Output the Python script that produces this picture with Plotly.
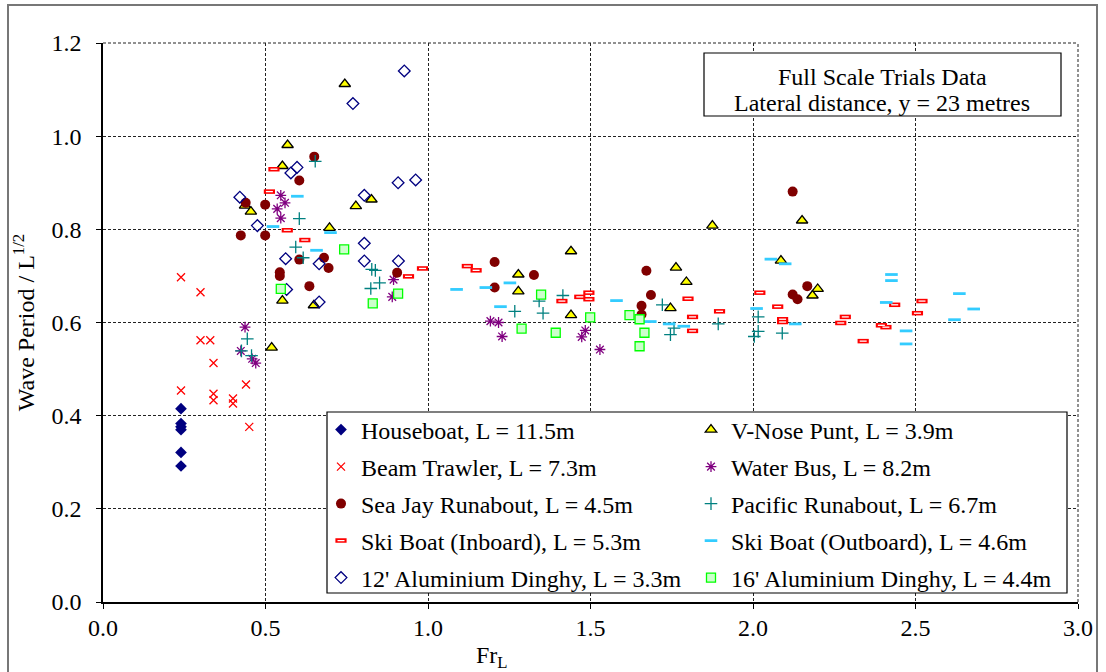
import plotly.graph_objects as go

# ---- Full scale trials: wave period vs length Froude number (y = 23 m) ----

houseboat_x = [0.24, 0.24, 0.24, 0.24, 0.24, 0.24]
houseboat_y = [0.415, 0.383, 0.376, 0.370, 0.321, 0.292]

trawler_x = [0.24, 0.30, 0.30, 0.33, 0.34, 0.24, 0.34, 0.34, 0.40, 0.40, 0.44, 0.45]
trawler_y = [0.697, 0.665, 0.562, 0.562, 0.513, 0.454, 0.447, 0.433, 0.437, 0.426, 0.467, 0.376]

seajay_x = [0.439, 0.499, 0.424, 0.499, 0.604, 0.650, 0.604, 0.680, 0.694, 0.544, 0.544, 0.635,
            0.905, 1.205, 1.326, 1.205, 1.672, 1.686, 1.657, 1.657, 2.122, 2.167, 2.122, 2.137]
seajay_y = [0.857, 0.853, 0.787, 0.787, 0.905, 0.956, 0.735, 0.739, 0.717, 0.708, 0.700, 0.678,
            0.707, 0.730, 0.702, 0.675, 0.711, 0.659, 0.636, 0.617, 0.881, 0.678, 0.660, 0.650]

inboard_x = [0.526, 0.512, 0.567, 0.621, 0.940, 0.983, 1.121, 1.148, 1.412, 1.467, 1.495, 1.495,
             1.800, 1.814, 1.814, 1.897, 2.021, 2.076, 2.091, 2.091, 2.270, 2.284, 2.339, 2.395,
             2.409, 2.436, 2.506, 2.520]
inboard_y = [0.929, 0.881, 0.798, 0.777, 0.699, 0.716, 0.721, 0.712, 0.646, 0.655, 0.664, 0.650,
             0.651, 0.612, 0.582, 0.624, 0.664, 0.634, 0.607, 0.601, 0.599, 0.612, 0.560, 0.594,
             0.590, 0.638, 0.620, 0.646]

outboard_x = [0.598, 0.523, 0.700, 0.657, 1.088, 1.178, 1.252, 1.223, 1.580, 1.684, 1.742, 1.787,
              2.011, 2.055, 2.099, 2.130, 2.426, 2.426, 2.410, 2.471, 2.471, 2.620, 2.635, 2.679]
outboard_y = [0.871, 0.806, 0.793, 0.755, 0.671, 0.675, 0.685, 0.634, 0.647, 0.602, 0.597, 0.592,
              0.630, 0.736, 0.726, 0.597, 0.703, 0.690, 0.643, 0.582, 0.554, 0.606, 0.662, 0.629]

dinghy12_x = [0.421, 0.597, 0.578, 0.475, 0.562, 0.665, 0.565, 0.665, 0.927, 0.769, 0.908, 0.962,
              0.804, 0.804, 0.804, 0.909]
dinghy12_y = [0.869, 0.933, 0.921, 0.808, 0.737, 0.726, 0.671, 0.644, 1.140, 1.070, 0.900, 0.906,
              0.873, 0.770, 0.732, 0.732]

punt_x = [0.744, 0.568, 0.552, 0.437, 0.455, 0.697, 0.552, 0.649, 0.519, 0.778, 0.826, 1.440,
          1.278, 1.278, 1.440, 1.746, 1.763, 1.795, 1.875, 2.151, 2.086, 2.199, 2.183]
punt_y = [1.112, 0.981, 0.936, 0.851, 0.838, 0.803, 0.647, 0.637, 0.546, 0.850, 0.864, 0.753,
          0.703, 0.667, 0.616, 0.631, 0.718, 0.687, 0.808, 0.819, 0.733, 0.672, 0.658]

waterbus_x = [0.547, 0.560, 0.536, 0.547, 0.437, 0.424, 0.459, 0.470, 0.894, 0.890, 1.192, 1.217,
              1.228, 1.484, 1.473, 1.529]
waterbus_y = [0.873, 0.857, 0.844, 0.824, 0.590, 0.539, 0.522, 0.513, 0.692, 0.655, 0.603, 0.600,
              0.570, 0.583, 0.569, 0.542]

pacific_x = [0.653, 0.604, 0.593, 0.616, 0.444, 0.426, 0.457, 0.827, 0.838, 0.851, 0.824, 1.267,
             1.342, 1.354, 1.415, 1.721, 1.757, 1.746, 1.893, 2.016, 2.016, 2.004, 2.090]
pacific_y = [0.946, 0.823, 0.762, 0.739, 0.565, 0.539, 0.529, 0.714, 0.712, 0.685, 0.673, 0.624,
             0.646, 0.620, 0.658, 0.638, 0.588, 0.574, 0.597, 0.612, 0.581, 0.570, 0.577]

dinghy16_x = [0.547, 0.742, 0.830, 0.908, 1.288, 1.348, 1.393, 1.499, 1.620, 1.651, 1.666, 1.651]
dinghy16_y = [0.672, 0.757, 0.641, 0.662, 0.587, 0.660, 0.578, 0.611, 0.616, 0.607, 0.578, 0.549]

x_ticks = [0.0, 0.5, 1.0, 1.5, 2.0, 2.5, 3.0]
y_ticks = [0.0, 0.2, 0.4, 0.6, 0.8, 1.0, 1.2]

FONT = "Liberation Serif"
W, H = 1106, 672
ML, MR, MT, MB = 103, 28, 43, 70
PW, PH = W - ML - MR, H - MT - MB


def px_x(p):
    return (p - ML) / PW


def px_y(p):
    return (H - MB - p) / PH


fig = go.Figure()


def add(x, y, name, legend, marker):
    fig.add_trace(go.Scatter(x=x, y=y, mode="markers", name=name, legend=legend,
                             marker=marker, cliponaxis=False))


add(houseboat_x, houseboat_y, "Houseboat, L = 11.5m", "legend",
    dict(symbol="diamond", size=9, color="#000080", line=dict(width=0)))
add(punt_x, punt_y, "V-Nose Punt, L = 3.9m", "legend2",
    dict(symbol="triangle-up", size=10, color="#FFFF00", line=dict(width=1.3, color="black")))
add(trawler_x, trawler_y, "Beam Trawler, L = 7.3m", "legend3",
    dict(symbol="x-thin-open", size=8, color="#FF0000", line=dict(width=1.3, color="#FF0000")))
add(waterbus_x, waterbus_y, "Water Bus, L = 8.2m", "legend4",
    dict(symbol="asterisk-open", size=9, color="#800080", line=dict(width=1.3, color="#800080")))
add(seajay_x, seajay_y, "Sea Jay Runabout, L = 4.5m", "legend5",
    dict(symbol="circle", size=10, color="#800000", line=dict(width=0)))
add(pacific_x, pacific_y, "Pacific Runabout, L = 6.7m", "legend6",
    dict(symbol="cross-thin-open", size=9, color="#008080", line=dict(width=1.3, color="#008080")))
# hollow red bar: thick red dash with a thin white dash drawn over it
add(inboard_x, inboard_y, "Ski Boat (Inboard), L = 5.3m", "legend7",
    dict(symbol="line-ew-open", size=8, color="#FF0000", line=dict(width=4.5, color="#FF0000")))
add(inboard_x, inboard_y, " ", "legend11",
    dict(symbol="line-ew-open", size=5, color="white", line=dict(width=1.3, color="white")))
add(outboard_x, outboard_y, "Ski Boat (Outboard), L = 4.6m", "legend8",
    dict(symbol="line-ew-open", size=9, color="#33CCFF", line=dict(width=2.8, color="#33CCFF")))
add(dinghy12_x, dinghy12_y, "12' Aluminium Dinghy, L = 3.3m", "legend9",
    dict(symbol="diamond-open", size=9, color="#000080", line=dict(width=1.3, color="#000080")))
add(dinghy16_x, dinghy16_y, "16' Aluminium Dinghy, L = 4.4m", "legend10",
    dict(symbol="square", size=9, color="#CCFFCC", line=dict(width=1.3, color="#00FF00")))

# legend entries laid out in two columns of five rows
col_text = [361, 731]
row_mid = [430, 467, 504, 541, 578]
legend_pos = {
    "legend": (0, 0), "legend2": (1, 0), "legend3": (0, 1), "legend4": (1, 1),
    "legend5": (0, 2), "legend6": (1, 2), "legend7": (0, 3), "legend8": (1, 3),
    "legend9": (0, 4), "legend10": (1, 4), "legend11": (0, 3),
}
legend_layout = {}
for key, (c, r) in legend_pos.items():
    legend_layout[key] = dict(
        x=px_x(col_text[c] - 40), y=px_y(row_mid[r]), xanchor="left", yanchor="middle",
        bgcolor="rgba(0,0,0,0)", borderwidth=0, font=dict(family=FONT, size=24, color="black"),
        itemsizing="trace",
    )

axis_common = dict(
    showgrid=True, gridcolor="#222", griddash="3px,2px", gridwidth=1,
    zeroline=False, showline=True, linecolor="black", linewidth=1.5,
    ticks="outside", ticklen=5, tickcolor="black", tickwidth=1.2,
    tickfont=dict(family=FONT, size=24, color="black"), automargin=False,
)

fig.update_layout(
    width=W, height=H, margin=dict(l=ML, r=MR, t=MT, b=MB, autoexpand=False),
    paper_bgcolor="white", plot_bgcolor="white",
    font=dict(family=FONT, size=24, color="black"),
    xaxis=dict(range=[0, 3.0], tickvals=x_ticks, ticktext=[f"{v:.1f}" for v in x_ticks],
               ticklabelstandoff=-2, **axis_common),
    yaxis=dict(range=[0, 1.2], tickvals=y_ticks, ticktext=[f"{v:.1f}" for v in y_ticks],
               ticklabelstandoff=10,
               title=dict(text="Wave Period / L<sup>1/2</sup>", font=dict(family=FONT, size=24),
                          standoff=10),
               **axis_common),
    showlegend=True,
    **legend_layout,
)

shapes = [
    # outer chart frame
    dict(type="rect", xref="paper", yref="paper", x0=px_x(8), x1=px_x(1097),
         y0=px_y(700), y1=px_y(5), line=dict(color="#777", width=2), layer="above"),
    # dashed top and right plot edges
    dict(type="line", xref="paper", yref="paper", x0=0, x1=1, y0=1, y1=1,
         line=dict(color="#222", width=1, dash="3px,2px"), layer="below"),
    dict(type="line", xref="paper", yref="paper", x0=1, x1=1, y0=0, y1=1,
         line=dict(color="#222", width=1, dash="3px,2px"), layer="below"),
    # legend box
    dict(type="rect", xref="paper", yref="paper", x0=px_x(327), x1=px_x(1067),
         y0=px_y(593), y1=px_y(412), line=dict(color="black", width=1.2),
         fillcolor="white", layer="above"),
    # note box
    dict(type="rect", xref="paper", yref="paper", x0=px_x(704), x1=px_x(1061),
         y0=px_y(116), y1=px_y(53), line=dict(color="black", width=1.2),
         fillcolor="white", layer="above"),
]
fig.update_layout(shapes=shapes)

for text, ypx in [("Full Scale Trials Data", 77), ("Lateral distance, y = 23 metres", 103)]:
    fig.add_annotation(x=px_x(882), y=px_y(ypx), xref="paper", yref="paper", showarrow=False,
                       xanchor="center", yanchor="middle", text=text,
                       font=dict(family=FONT, size=24, color="black"))

# x-axis title
fig.add_annotation(x=px_x(492), y=px_y(657), xref="paper", yref="paper", showarrow=False,
                   xanchor="center", yanchor="middle", text="Fr<sub>L</sub>",
                   font=dict(family=FONT, size=24, color="black"))

fig.write_html("out.html")
